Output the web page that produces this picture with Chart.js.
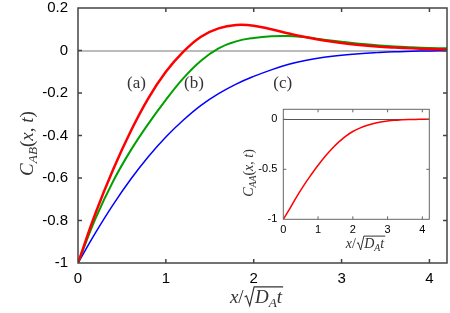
<!DOCTYPE html>
<html>
<head>
<meta charset="utf-8">
<script src="https://cdn.jsdelivr.net/npm/chart.js@4.4.1/dist/chart.umd.min.js"></script>
<style>
  html, body { margin: 0; padding: 0; background: #fff; }
  #wrap { position: relative; width: 450px; height: 313px; }
  #main { position: absolute; left: 0; top: 0; }
  #inset { position: absolute; left: 235px; top: 100px; }
</style>
</head>
<body>
<div id="wrap">
  <canvas id="main" width="450" height="313"></canvas>
  <canvas id="inset" width="200" height="160"></canvas>
</div>
<script>
// x / sqrt(D_A t) sample points
const xs = [0, 0.2, 0.4, 0.6, 0.8, 1.0, 1.2, 1.4, 1.6, 1.8, 2.0, 2.2, 2.4, 2.6, 2.8, 3.0, 3.2, 3.4, 3.6, 3.8, 4.0, 4.2];

// C_AB(x,t), curves (a), (b), (c)
const curveA = [-1, -0.765, -0.56, -0.38, -0.225, -0.1, -0.005, 0.065, 0.104, 0.12, 0.117, 0.1, 0.08, 0.062, 0.047, 0.035, 0.026, 0.019, 0.014, 0.01, 0.007, 0.005];
const curveB = [-1, -0.79, -0.615, -0.47, -0.345, -0.232, -0.13, -0.048, 0.01, 0.043, 0.059, 0.067, 0.068, 0.062, 0.051, 0.041, 0.032, 0.025, 0.019, 0.015, 0.012, 0.01];
const curveC = [-1, -0.857, -0.725, -0.606, -0.5, -0.407, -0.327, -0.258, -0.203, -0.158, -0.122, -0.091, -0.065, -0.046, -0.032, -0.022, -0.015, -0.01, -0.006, -0.004, -0.002, -0.001];

// inset: C_AA(x,t)
const curveAA = [-1, -0.885, -0.765, -0.655, -0.555, -0.46, -0.372, -0.295, -0.226, -0.168, -0.122, -0.088, -0.062, -0.042, -0.027, -0.016, -0.009, -0.005, -0.002, -0.001, 0, 0];

const curveNames = ['(a)', '(b)', '(c)'];
const nameX = [0.665, 1.32, 2.33];
const nameY = -0.157;

const serif = '"Liberation Serif", "DejaVu Serif", serif';
const sans = '"Liberation Sans", Arial, sans-serif';

function pts(ys) {
  return xs.map((x, i) => ({ x: x, y: ys[i] }));
}

// math text runs: [text, italic, subscript]
function runsWidth(ctx, runs, size) {
  let w = 0;
  runs.forEach(r => {
    ctx.font = (r[1] ? 'italic ' : '') + (r[2] ? size * 0.7 : size) + 'px ' + serif;
    w += ctx.measureText(r[0]).width;
  });
  return w;
}
function drawRuns(ctx, runs, x, y, size) {
  runs.forEach(r => {
    const s = r[2] ? size * 0.7 : size;
    ctx.font = (r[1] ? 'italic ' : '') + s + 'px ' + serif;
    ctx.fillText(r[0], x, y + (r[2] ? size * 0.22 : 0));
    x += ctx.measureText(r[0]).width;
  });
  return x;
}
function drawSqrtLabel(ctx, cx, y, size) {
  const pre = [['x', 1], ['/', 0]];
  const rad = [['D', 1], ['A', 1, 1], ['t', 1]];
  const rw = size * 0.6;
  const w = runsWidth(ctx, pre, size) + rw + runsWidth(ctx, rad, size);
  let x = cx - w / 2;
  x = drawRuns(ctx, pre, x, y, size);
  const x0 = x + 1;
  const end = x + rw + runsWidth(ctx, rad, size) + 1;
  ctx.beginPath();
  ctx.lineWidth = Math.max(1, size / 16);
  ctx.moveTo(x0, y - 0.32 * size);
  ctx.lineTo(x0 + 0.1 * size, y - 0.38 * size);
  ctx.lineTo(x0 + 0.27 * size, y + 0.14 * size);
  ctx.lineTo(x0 + 0.5 * size, y - 0.85 * size);
  ctx.lineTo(end, y - 0.85 * size);
  ctx.stroke();
  drawRuns(ctx, rad, x + rw, y, size);
}
function drawCLabel(ctx, sub, cx, cy, size) {
  const runs = [['C', 1], [sub, 1, 1], ['(', 0], ['x', 1], [', ', 0], ['t', 1], [')', 0]];
  const w = runsWidth(ctx, runs, size);
  ctx.save();
  ctx.translate(cx, cy);
  ctx.rotate(-Math.PI / 2);
  drawRuns(ctx, runs, -w / 2, 0, size);
  ctx.restore();
}

// frame with inward ticks on all four sides
const frameTicks = {
  id: 'frameTicks',
  afterDatasetsDraw(chart, args, opts) {
    const { ctx, chartArea: a, scales: { x, y } } = chart;
    const L = opts.len;
    ctx.save();
    ctx.strokeStyle = opts.color;
    ctx.lineWidth = opts.width;
    ctx.beginPath();
    x.ticks.forEach(t => {
      const px = x.getPixelForValue(t.value);
      if (px <= a.left + 1 || px >= a.right - 1) return;
      ctx.moveTo(px, a.bottom); ctx.lineTo(px, a.bottom - L);
      ctx.moveTo(px, a.top); ctx.lineTo(px, a.top + L);
    });
    y.ticks.forEach(t => {
      const py = y.getPixelForValue(t.value);
      if (py <= a.top + 1 || py >= a.bottom - 1) return;
      ctx.moveTo(a.left, py); ctx.lineTo(a.left + L, py);
      ctx.moveTo(a.right, py); ctx.lineTo(a.right - L, py);
    });
    ctx.stroke();
    ctx.strokeRect(a.left, a.top, a.right - a.left, a.bottom - a.top);
    ctx.restore();
  }
};

const mainText = {
  id: 'mainText',
  afterDraw(chart) {
    const { ctx, scales: { x, y } } = chart;
    ctx.save();
    ctx.fillStyle = '#333';
    ctx.strokeStyle = '#333';
    ctx.font = '17px ' + serif;
    ctx.textAlign = 'center';
    ctx.textBaseline = 'middle';
    curveNames.forEach((n, i) => {
      ctx.fillText(n, x.getPixelForValue(nameX[i]), y.getPixelForValue(nameY));
    });
    ctx.textAlign = 'left';
    ctx.textBaseline = 'alphabetic';
    drawCLabel(ctx, 'AB', 33, 143.5, 19);
    drawSqrtLabel(ctx, 256, 303, 19);
    ctx.restore();
  }
};

const insetText = {
  id: 'insetText',
  afterDraw(chart) {
    const ctx = chart.ctx;
    ctx.save();
    ctx.fillStyle = '#333';
    ctx.strokeStyle = '#333';
    ctx.textAlign = 'left';
    ctx.textBaseline = 'alphabetic';
    drawCLabel(ctx, 'AA', 253 - 235, 173 - 100, 14);
    drawSqrtLabel(ctx, 365 - 235, 248 - 100, 14);
    ctx.restore();
  }
};

function fixW(w) {
  return s => { s.width = w; s.paddingTop = 0; s.paddingBottom = 0; };
}
function fixH(h) {
  return s => { s.height = h; s.paddingLeft = 0; s.paddingRight = 0; };
}
const fmt = v => String(Math.round(v * 10) / 10);

new Chart(document.getElementById('main'), {
  type: 'line',
  data: {
    datasets: [
      { data: pts(curveA), borderColor: '#ff0000', borderWidth: 2.5 },
      { data: pts(curveB), borderColor: '#00a000', borderWidth: 2 },
      { data: pts(curveC), borderColor: '#0000ff', borderWidth: 1.5 }
    ]
  },
  options: {
    responsive: false,
    animation: false,
    devicePixelRatio: 1,
    layout: { padding: { left: 0, top: 8, right: 3, bottom: 0 } },
    elements: {
      point: { radius: 0 },
      line: { tension: 0.4, fill: false }
    },
    scales: {
      x: {
        type: 'linear', min: 0, max: 4.2,
        afterFit: fixH(50),
        border: { display: false },
        grid: { display: false, drawTicks: false },
        ticks: { stepSize: 1, includeBounds: false, padding: 7, color: '#000', font: { family: sans, size: 15 }, maxRotation: 0, callback: fmt }
      },
      y: {
        min: -1, max: 0.2,
        afterFit: fixW(78),
        border: { display: false },
        grid: { drawTicks: false, lineWidth: 2, color: c => c.tick && Math.abs(c.tick.value) < 1e-9 ? '#bbbbbb' : 'rgba(0,0,0,0)' },
        ticks: { stepSize: 0.2, includeBounds: false, padding: 10, color: '#000', font: { family: sans, size: 15 }, callback: fmt }
      }
    },
    plugins: {
      legend: { display: false },
      title: { display: false },
      tooltip: { enabled: false },
      frameTicks: { len: 4, color: '#444', width: 1.5 }
    }
  },
  plugins: [frameTicks, mainText]
});

new Chart(document.getElementById('inset'), {
  type: 'line',
  data: {
    datasets: [
      { data: pts(curveAA), borderColor: '#ff0000', borderWidth: 1.5 }
    ]
  },
  options: {
    responsive: false,
    animation: false,
    devicePixelRatio: 1,
    layout: { padding: { left: 0, top: 9.3, right: 5.7, bottom: 0 } },
    elements: {
      point: { radius: 0 },
      line: { tension: 0.4, fill: false }
    },
    scales: {
      x: {
        type: 'linear', min: 0, max: 4.2,
        afterFit: fixH(40.7),
        border: { display: false },
        grid: { display: false, drawTicks: false },
        ticks: { stepSize: 1, includeBounds: false, padding: 4, color: '#000', font: { family: sans, size: 11 }, maxRotation: 0, callback: fmt }
      },
      y: {
        min: -1, max: 0.1,
        afterFit: fixW(48.3),
        border: { display: false },
        grid: { drawTicks: false, lineWidth: 1, color: c => c.tick && Math.abs(c.tick.value) < 1e-9 ? '#555' : 'rgba(0,0,0,0)' },
        ticks: { stepSize: 0.5, includeBounds: false, padding: 6, color: '#000', font: { family: sans, size: 11 }, callback: fmt }
      }
    },
    plugins: {
      legend: { display: false },
      title: { display: false },
      tooltip: { enabled: false },
      frameTicks: { len: 3, color: '#666', width: 1 }
    }
  },
  plugins: [frameTicks, insetText]
});
</script>
</body>
</html>
